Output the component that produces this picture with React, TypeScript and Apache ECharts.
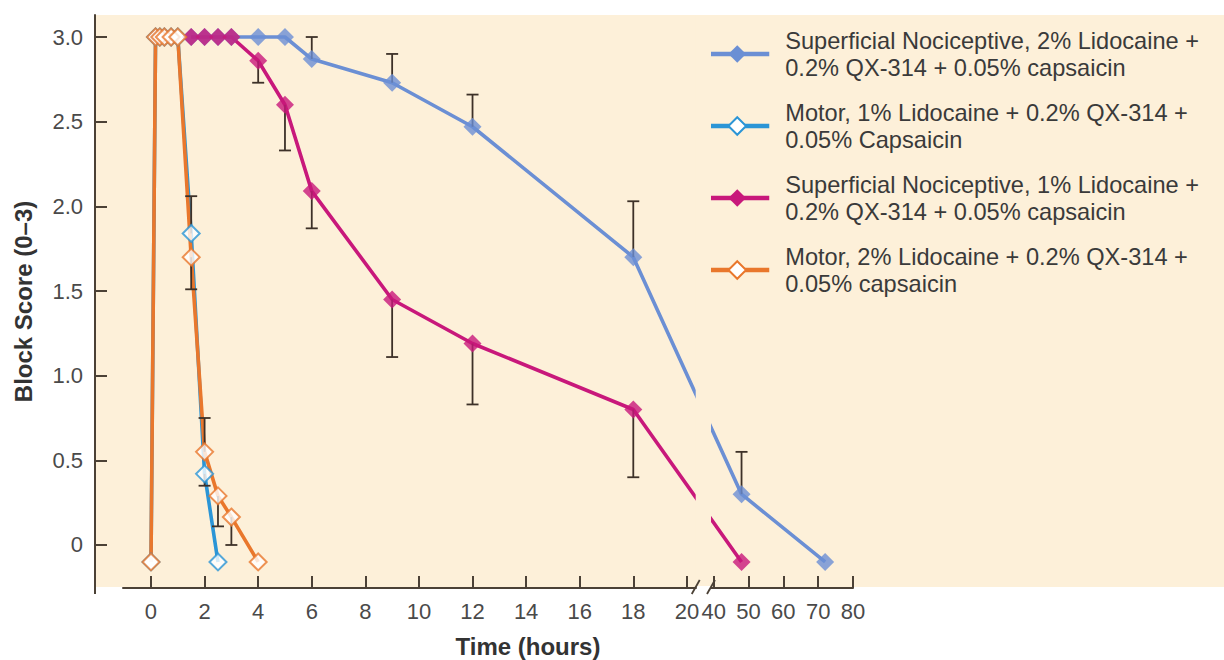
import React, { useEffect, useRef } from "react";
import * as echarts from "echarts";

// ---------- data ----------
const seriesNames = [
  "Superficial Nociceptive, 2% Lidocaine +\n0.2% QX-314 + 0.05% capsaicin",
  "Motor, 1% Lidocaine + 0.2% QX-314 +\n0.05% Capsaicin",
  "Superficial Nociceptive, 1% Lidocaine +\n0.2% QX-314 + 0.05% capsaicin",
  "Motor, 2% Lidocaine + 0.2% QX-314 +\n0.05% capsaicin",
];
const seriesColors = ["#6b8fd4", "#2b95d6", "#c8187b", "#e9772c"];
const seriesHollow = [false, true, false, true];

const supNoci2Times = [1.5, 2, 2.5, 3, 4, 5, 6, 9, 12, 18, 48, 72];
const supNoci2Scores = [3, 3, 3, 3, 3, 3, 2.87, 2.73, 2.47, 1.7, 0.3, -0.1];
const motor1Times = [0, 0.17, 0.33, 0.5, 0.75, 1, 1.5, 2, 2.5];
const motor1Scores = [-0.1, 3, 3, 3, 3, 3, 1.84, 0.42, -0.1];
const supNoci1Times = [1.5, 2, 2.5, 3, 4, 5, 6, 9, 12, 18, 48];
const supNoci1Scores = [3, 3, 3, 3, 2.86, 2.6, 2.09, 1.45, 1.19, 0.8, -0.1];
const motor2Times = [0, 0.17, 0.33, 0.5, 0.75, 1, 1.5, 2, 2.5, 3, 4];
const motor2Scores = [-0.1, 3, 3, 3, 3, 3, 1.7, 0.55, 0.29, 0.165, -0.1];

const allTimes = [supNoci2Times, motor1Times, supNoci1Times, motor2Times];
const allScores = [supNoci2Scores, motor1Scores, supNoci1Scores, motor2Scores];

// one-sided error bars: time, mean, end (cap at end)
const errTimes = [6, 9, 12, 18, 48, 4, 5, 6, 9, 12, 18, 1.5, 2, 1.5, 2, 2.5, 3];
const errFrom = [2.87, 2.73, 2.47, 1.7, 0.3, 2.86, 2.6, 2.09, 1.45, 1.19, 0.8, 1.84, 0.42, 1.7, 0.55, 0.29, 0.165];
const errTo = [3.0, 2.9, 2.66, 2.03, 0.55, 2.73, 2.33, 1.87, 1.11, 0.83, 0.4, 2.06, 0.35, 1.51, 0.75, 0.11, 0.0];

const xTickTimes = [0, 2, 4, 6, 8, 10, 12, 14, 16, 18, 20, 40, 50, 60, 70, 80];
const yTickValues = [0, 0.5, 1, 1.5, 2, 2.5, 3];

// broken time axis: 0-20 h linear, then 40-80 h compressed
const LEFT_END = 20;
const RIGHT_START = 40;
const RIGHT_AT = 21;
const RIGHT_SCALE = 0.13;
const toAxis = (t: number) => (t <= LEFT_END ? t : RIGHT_AT + (t - RIGHT_START) * RIGHT_SCALE);
const fromAxis = (a: number) => (a <= LEFT_END + 0.5 ? a : RIGHT_START + (a - RIGHT_AT) / RIGHT_SCALE);

const X_MIN = -1.045;
const X_MAX = 26.2;
const Y_MIN = -0.254;
const Y_MAX = 3.13;
const GAP_FROM = 20.33;
const GAP_TO = 20.9;

const FONT = "'Liberation Sans', Arial, Helvetica, sans-serif";
const BG = "#fdf0d9";
const AXIS = "#4b4136";
const ERR = "#3d3128";

export default function App() {
  const ref = useRef<HTMLDivElement>(null);

  useEffect(() => {
    if (!ref.current) return;
    const chart = echarts.init(ref.current, undefined, { renderer: "svg" });

    const lineSeries: any[] = seriesNames.map((name, i) => ({
      name,
      type: "line",
      z: 2,
      data: allTimes[i].map((t, k) => [toAxis(t), allScores[i][k]]),
      showSymbol: false,
      symbol: "diamond",
      symbolSize: 18,
      lineStyle: { color: seriesColors[i], width: 3.6 },
      itemStyle: seriesHollow[i]
        ? { color: "#ffffff", borderColor: seriesColors[i], borderWidth: 2 }
        : { color: seriesColors[i], borderColor: seriesColors[i], borderWidth: 0 },
      emphasis: { disabled: true },
    }));

    const symbolSeries: any[] = seriesNames.map((_name, i) => ({
      name: "symbols-" + i,
      type: "scatter",
      z: 5,
      data: allTimes[i].map((t, k) => [toAxis(t), allScores[i][k]]),
      symbol: "diamond",
      symbolSize: seriesHollow[i] ? 17 : 18,
      itemStyle: seriesHollow[i]
        ? { color: "#ffffff", borderColor: seriesColors[i], borderWidth: 2 }
        : { color: seriesColors[i] },
      emphasis: { disabled: true },
    }));

    const errSeries: any = {
      name: "errors",
      type: "custom",
      z: 3,
      data: errTimes.map((t, k) => [toAxis(t), errFrom[k], errTo[k]]),
      encode: { x: 0, y: [1, 2] },
      renderItem: (_params: any, api: any) => {
        const x = api.value(0);
        const p1 = api.coord([x, api.value(1)]);
        const p2 = api.coord([x, api.value(2)]);
        const style = { stroke: ERR, lineWidth: 1.8 };
        return {
          type: "group",
          children: [
            { type: "line", shape: { x1: p1[0], y1: p1[1], x2: p2[0], y2: p2[1] }, style },
            { type: "line", shape: { x1: p2[0] - 6, y1: p2[1], x2: p2[0] + 6, y2: p2[1] }, style },
          ],
        };
      },
    };

    chart.setOption({
      animation: false,
      grid: { left: 123, right: 371, top: 15, bottom: 72, containLabel: false },
      legend: {
        data: seriesNames,
        orient: "vertical",
        left: 698,
        top: 22,
        itemWidth: 64,
        itemHeight: 22,
        itemGap: 18,
        selectedMode: false,
        lineStyle: { width: 4.5 },
        textStyle: {
          fontFamily: FONT,
          fontSize: 23.6,
          lineHeight: 27,
          color: "#3a3a3a",
          padding: [0, 0, 0, 11],
        },
      },
      xAxis: {
        type: "value",
        min: X_MIN,
        max: X_MAX,
        splitLine: { show: false },
        axisLine: { show: true, onZero: false, lineStyle: { color: AXIS, width: 2 } },
        axisTick: {
          show: true,
          inside: true,
          length: 12,
          lineStyle: { color: AXIS, width: 2 },
          customValues: xTickTimes.map(toAxis),
        },
        axisLabel: {
          customValues: xTickTimes.map(toAxis),
          formatter: (v: number) => String(Math.round(fromAxis(v))),
          fontFamily: FONT,
          fontSize: 22,
          color: "#4a4a4a",
          margin: 12,
        },
      },
      yAxis: {
        type: "value",
        min: Y_MIN,
        max: Y_MAX,
        offset: 28,
        splitLine: { show: false },
        axisLine: { show: true, onZero: false, lineStyle: { color: AXIS, width: 2 } },
        axisTick: {
          show: true,
          inside: true,
          length: 12,
          lineStyle: { color: AXIS, width: 2 },
          customValues: yTickValues,
        },
        axisLabel: {
          customValues: yTickValues,
          formatter: (v: number) => (v === 0 ? "0" : v.toFixed(1)),
          fontFamily: FONT,
          fontSize: 22,
          color: "#4a4a4a",
          margin: 12,
        },
        name: "Block Score (0–3)",
        nameLocation: "middle",
        nameGap: 60,
        nameTextStyle: { fontFamily: FONT, fontSize: 24, fontWeight: "bold", color: "#333333" },
      },
      series: [...lineSeries, errSeries, ...symbolSeries],
    });

    const xp = (a: number) => chart.convertToPixel({ xAxisIndex: 0 }, a) as number;
    const yp = (v: number) => chart.convertToPixel({ yAxisIndex: 0 }, v) as number;
    const left = xp(X_MIN) - 28;
    const top = yp(Y_MAX);
    const bottom = yp(Y_MIN);
    const g1 = xp(GAP_FROM);
    const g2 = xp(GAP_TO);

    chart.setOption({
      graphic: [
        {
          type: "rect",
          z: -10,
          silent: true,
          shape: { x: left, y: top, width: 1224 - left, height: bottom - top - 1 },
          style: { fill: BG },
        },
        {
          type: "rect",
          z: 50,
          silent: true,
          shape: { x: g1, y: top, width: g2 - g1, height: bottom - top - 2 },
          style: { fill: BG },
        },
        {
          type: "rect",
          z: 50,
          silent: true,
          shape: { x: g1 + 1, y: bottom - 2, width: g2 - g1 - 2, height: 6 },
          style: { fill: "#ffffff" },
        },
        {
          type: "line",
          z: 51,
          silent: true,
          shape: { x1: g1 - 4, y1: bottom + 6, x2: g1 + 4, y2: bottom - 8 },
          style: { stroke: AXIS, lineWidth: 1.8 },
        },
        {
          type: "line",
          z: 51,
          silent: true,
          shape: { x1: g2 - 4, y1: bottom + 6, x2: g2 + 4, y2: bottom - 8 },
          style: { stroke: AXIS, lineWidth: 1.8 },
        },
        {
          type: "line",
          z: 1,
          silent: true,
          shape: { x1: left, y1: bottom - 1, x2: left, y2: bottom + 6 },
          style: { stroke: AXIS, lineWidth: 2 },
        },
        {
          type: "text",
          z: 10,
          silent: true,
          style: {
            x: 528,
            y: 646,
            text: "Time (hours)",
            align: "center",
            verticalAlign: "middle",
            fontFamily: FONT,
            fontSize: 24,
            fontWeight: "bold",
            fill: "#333333",
          },
        },
      ],
    });

    return () => chart.dispose();
  }, []);

  return (
    <div
      ref={ref}
      style={{ position: "absolute", left: 0, top: 0, width: 1224, height: 660, background: "#ffffff" }}
    />
  );
}
